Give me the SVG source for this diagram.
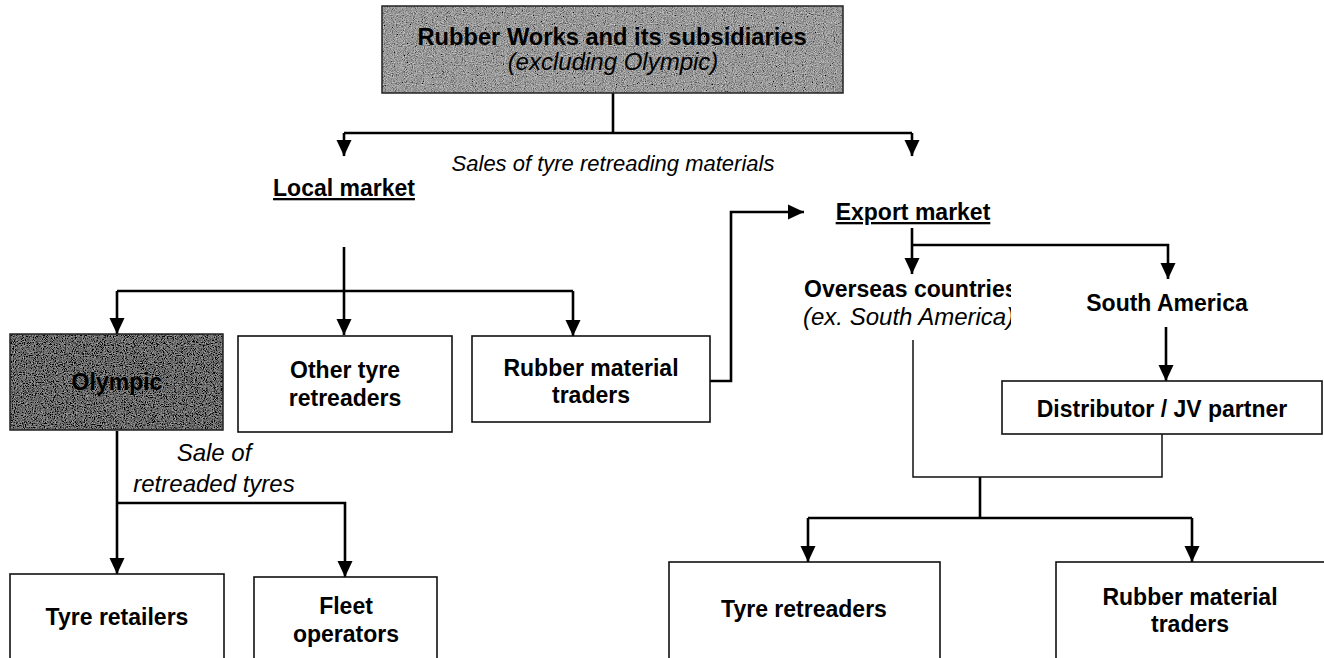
<svg xmlns="http://www.w3.org/2000/svg" width="1324" height="658" viewBox="0 0 1324 658">
<style>
.bx{fill:#fff;stroke:#111;stroke-width:1.6}
.c{fill:none;stroke:#000;stroke-width:2.6}
.th{fill:none;stroke:#111;stroke-width:1.5}
.b{font-family:"Liberation Sans",Arial,sans-serif;font-weight:bold;font-size:23px;fill:#000;text-anchor:middle}
.i{font-family:"Liberation Sans",Arial,sans-serif;font-style:italic;font-size:23px;fill:#000;text-anchor:middle}
.u{text-decoration:underline}
</style>
<defs>
<marker id="ah" markerUnits="userSpaceOnUse" markerWidth="16" markerHeight="18" refX="17" refY="8" orient="auto" viewBox="0 0 17 16">
<path d="M0,0 L17,8 L0,16 z" fill="#000"/>
</marker>
<filter id="grain" x="0" y="0" width="1" height="1">
<feTurbulence type="fractalNoise" baseFrequency="0.9" numOctaves="2" seed="7" result="n"/>
<feColorMatrix in="n" type="matrix" values="0.33 0.33 0.33 0 0 0.33 0.33 0.33 0 0 0.33 0.33 0.33 0 0 0 0 0 0 1" result="g"/>
<feComposite in="g" in2="SourceGraphic" operator="arithmetic" k1="0" k2="1.6" k3="1" k4="-0.8" result="m"/>
<feComposite in="m" in2="SourceGraphic" operator="in"/>
</filter>
<clipPath id="clipOv"><rect x="780" y="270" width="231" height="70"/></clipPath>
</defs>

<g id="connectors">
<path class="c" d="M613,93 V133"/>
<path class="c" d="M344,133 H912"/>
<path class="c" d="M344,133 V156" marker-end="url(#ah)"/>
<path class="c" d="M912,133 V156" marker-end="url(#ah)"/>
<path class="c" d="M344,247 V335" marker-end="url(#ah)"/>
<path class="c" d="M117,291 H573"/>
<path class="c" d="M117,291 V334" marker-end="url(#ah)"/>
<path class="c" d="M573,291 V336" marker-end="url(#ah)"/>
<path class="c" d="M710,381 H731 V212 H804" marker-end="url(#ah)"/>
<path class="c" d="M117,431 V574" marker-end="url(#ah)"/>
<path class="c" d="M117,503 H345 V577" marker-end="url(#ah)"/>
<path class="c" d="M912,228 V274" marker-end="url(#ah)"/>
<path class="c" d="M912,245 H1168 V279" marker-end="url(#ah)"/>
<path class="c" d="M1166,327 V381" marker-end="url(#ah)"/>
<path class="th" d="M913,340 V477 H1162 V434"/>
<path class="c" d="M980,477 V518"/>
<path class="c" d="M808,518 H1192"/>
<path class="c" d="M808,518 V562" marker-end="url(#ah)"/>
<path class="c" d="M1192,518 V562" marker-end="url(#ah)"/>
<text class="i" x="613" y="171" style="font-size:22px">Sales of tyre retreading materials</text>
<text class="i" x="214" y="461" style="font-size:24px">Sale of</text>
<text class="i" x="214" y="492" style="font-size:24px">retreaded tyres</text>
</g>

<g id="rubber-works">
<rect x="382" y="6" width="461" height="87" fill="#9a9a9a" filter="url(#grain)"/>
<rect x="382" y="6" width="461" height="87" fill="none" stroke="#222" stroke-width="1.5"/>
<text class="b" x="612" y="45" style="font-size:23.7px">Rubber Works and its subsidiaries</text>
<text class="i" x="613" y="70" style="font-size:24px">(excluding Olympic)</text>
</g>

<g id="local-market">
<text class="b u" x="344" y="196">Local market</text>
</g>

<g id="export-market">
<text class="b u" x="913" y="220">Export market</text>
</g>

<g id="olympic">
<rect x="10" y="334" width="213" height="96" fill="#6a6a6a" filter="url(#grain)"/>
<rect x="10" y="334" width="213" height="96" fill="none" stroke="#222" stroke-width="1.5"/>
<text class="b" x="117" y="390">Olympic</text>
</g>

<g id="other-retreaders">
<rect class="bx" x="238" y="336" width="214" height="96"/>
<text class="b" x="345" y="378">Other tyre</text>
<text class="b" x="345" y="406">retreaders</text>
</g>

<g id="local-traders">
<rect class="bx" x="472" y="336" width="238" height="86"/>
<text class="b" x="591" y="376">Rubber material</text>
<text class="b" x="591" y="403">traders</text>
</g>

<g id="tyre-retailers">
<rect class="bx" x="10" y="574" width="214" height="100"/>
<text class="b" x="117" y="625">Tyre retailers</text>
</g>

<g id="fleet-operators">
<rect class="bx" x="254" y="577" width="183" height="100"/>
<text class="b" x="346" y="614">Fleet</text>
<text class="b" x="346" y="642">operators</text>
</g>

<g id="overseas">
<g clip-path="url(#clipOv)">
<text class="b" x="804" y="297" style="text-anchor:start">Overseas countries</text>
<text class="i" x="803" y="325" style="text-anchor:start;font-size:24px">(ex. South America)</text>
</g>
</g>

<g id="south-america">
<text class="b" x="1167" y="311">South America</text>
</g>

<g id="distributor">
<rect class="bx" x="1002" y="381" width="320" height="53"/>
<text class="b" x="1162" y="417">Distributor / JV partner</text>
</g>

<g id="tyre-retreaders">
<rect class="bx" x="669" y="562" width="271" height="110"/>
<text class="b" x="804" y="617">Tyre retreaders</text>
</g>

<g id="export-traders">
<rect class="bx" x="1056" y="562" width="280" height="110"/>
<text class="b" x="1190" y="605">Rubber material</text>
<text class="b" x="1190" y="632">traders</text>
</g>
</svg>
